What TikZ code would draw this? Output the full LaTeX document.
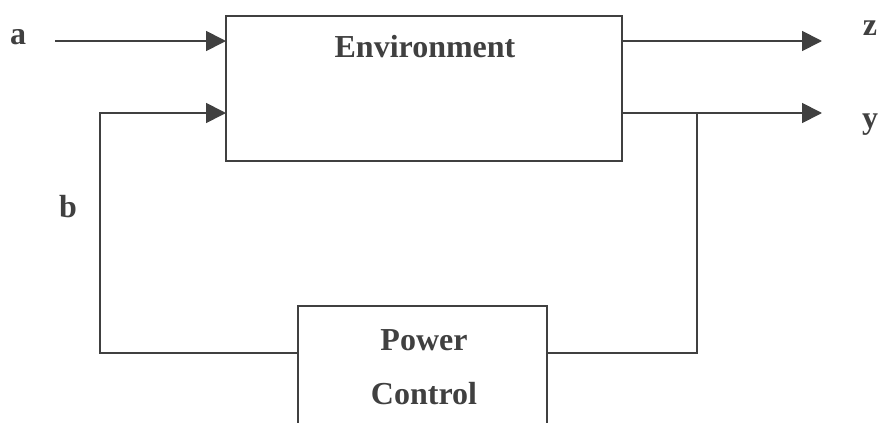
\documentclass[tikz,border=0pt]{standalone}
\usepackage{fontspec}
\setmainfont{Liberation Serif}
\usetikzlibrary{arrows.meta}
\definecolor{ink}{HTML}{404040}
\begin{document}
\begin{tikzpicture}[x=1pt,y=-1pt,
  line/.style={draw=ink,line width=1.8pt},
  arr/.style={line,-{Triangle[length=20pt,width=20pt]}},
  lbl/.style={text=ink,font=\bfseries\fontsize{32}{32}\selectfont,inner sep=0pt},
  boxr/.style={draw=ink,line width=1.8pt,fill=white}]
\useasboundingbox (0,0) rectangle (884,423);
% Environment box
\path[boxr] (226,16) rectangle (622,161);
\node[lbl] (env) at (425,47) {Environment};
% Power control box (cut at bottom)
\draw[line] (298,430) -- (298,306) -- (547,306) -- (547,430);
\node[lbl] (p1) at (424,340) {Power};
\node[lbl] (p2) at (424,394) {Control};
\coordinate (pcl) at (298,353);
\coordinate (pcr) at (547,353);
% inputs
\coordinate (ain) at (55,41);
\coordinate (ein1) at (226,41);
\coordinate (ein2) at (226,113);
\draw[arr] (ain) -- (ein1);
\coordinate (bcorner1) at (100,353);
\coordinate (bcorner2) at (100,113);
\draw[arr] (pcl) -- (bcorner1) -- (bcorner2) -- (ein2);
% outputs
\coordinate (eout1) at (622,41);
\coordinate (eout2) at (622,113);
\coordinate (zend) at (822,41);
\coordinate (yend) at (822,113);
\draw[arr] (eout1) -- (zend);
\draw[arr] (eout2) -- (yend);
\coordinate (br) at (697,113);
\coordinate (brc) at (697,353);
\draw[line] (br) -- (brc) -- (pcr);
% labels
\node[lbl] (la) at (18,37) {a};
\node[lbl] (lb) at (68,207) {b};
\node[lbl] (lz) at (870,28) {z};
\node[lbl] (ly) at (870,125) {y};
\end{tikzpicture}
\end{document}
